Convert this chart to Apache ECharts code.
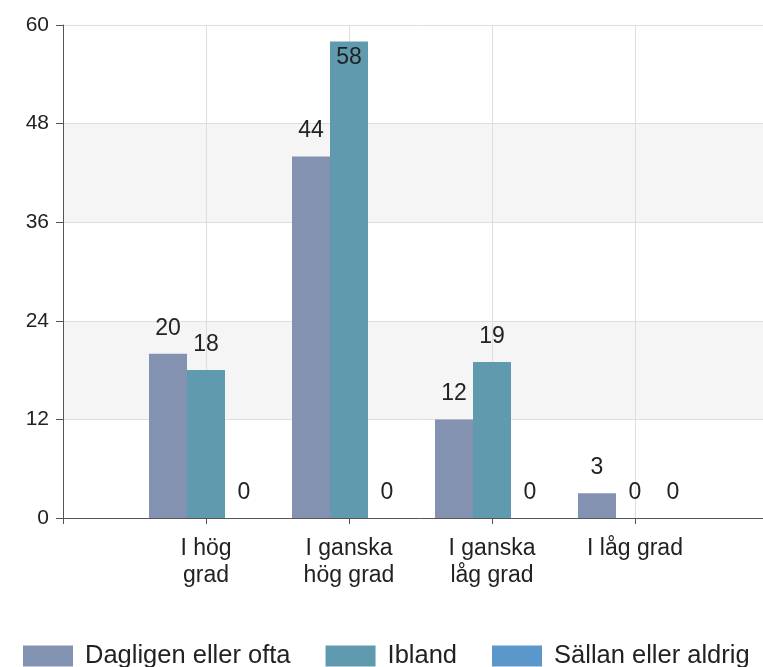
<!DOCTYPE html>
<html>
<head>
<meta charset="utf-8">
<script src="https://cdn.jsdelivr.net/npm/echarts@6/dist/echarts.min.js"></script>
<style>
html,body{margin:0;padding:0;background:#fff;overflow:hidden;width:763px;height:667px;}
#chart{width:781px;height:667px;}
</style>
</head>
<body>
<div id="chart"></div>
<script>
const categories = ["I hög\ngrad", "I ganska\nhög grad", "I ganska\nlåg grad", "I låg grad"];
const seriesNames = ["Dagligen eller ofta", "Ibland", "Sällan eller aldrig"];
const dagligen = [20, 44, 12, 3];
const ibland = [18, 58, 19, 0];
const sallan = [0, 0, 0, 0];
const colors = ["#8492b2", "#5f9aaf", "#5b97cb"];
const yMin = 0, yMax = 60, yInterval = 12;

const FONT = "'Liberation Sans', Arial, sans-serif";
const axisData = [""].concat(categories, [""]);

function buildData(vals) {
  const out = ["-"];
  vals.forEach(v => {
    if (v > yMax - 4) {
      out.push({ value: v, label: { position: "insideTop", distance: 5 } });
    } else {
      out.push(v);
    }
  });
  out.push("-");
  return out;
}

const allVals = [dagligen, ibland, sallan];
const series = seriesNames.map((name, i) => ({
  name: name,
  type: "bar",
  barWidth: 38,
  barGap: "0%",
  itemStyle: { color: colors[i] },
  label: {
    show: true,
    position: "top",
    distance: 14,
    fontSize: 23,
    fontFamily: FONT,
    color: "#222"
  },
  emphasis: { disabled: true },
  data: buildData(allVals[i])
}));

const chart = echarts.init(document.getElementById("chart"), null, { renderer: "canvas" });
chart.setOption({
  animation: false,
  color: colors,
  textStyle: { fontFamily: FONT },
  grid: { left: 63, top: 25, right: 0, bottom: 149, containLabel: false },
  xAxis: {
    type: "category",
    data: axisData,
    boundaryGap: false,
    axisLine: { show: true, lineStyle: { color: "#555", width: 1 } },
    axisTick: { show: true, length: 6, interval: 0, lineStyle: { color: "#555" } },
    splitLine: { show: true, interval: 0, lineStyle: { color: "#dedede", width: 1 } },
    axisLabel: {
      interval: 0,
      fontSize: 23,
      lineHeight: 27,
      margin: 17,
      color: "#222",
      fontFamily: FONT
    }
  },
  yAxis: {
    type: "value",
    min: yMin,
    max: yMax,
    interval: yInterval,
    axisLine: { show: true, lineStyle: { color: "#555", width: 1 } },
    axisTick: { show: true, length: 7, lineStyle: { color: "#555" } },
    splitLine: { show: true, lineStyle: { color: "#dedede", width: 1 } },
    splitArea: { show: true, areaStyle: { color: ["rgba(255,255,255,0)", "#f5f5f5"] } },
    axisLabel: { fontSize: 21, margin: 14, color: "#222", fontFamily: FONT }
  },
  legend: {
    left: 23,
    top: 643,
    padding: 0,
    itemWidth: 50,
    itemHeight: 21,
    itemGap: 35,
    icon: "rect",
    textStyle: { fontSize: 25.5, color: "#222", fontFamily: FONT, padding: [0, 0, 0, 7] },
    data: seriesNames
  },
  series: series
});
</script>
</body>
</html>
